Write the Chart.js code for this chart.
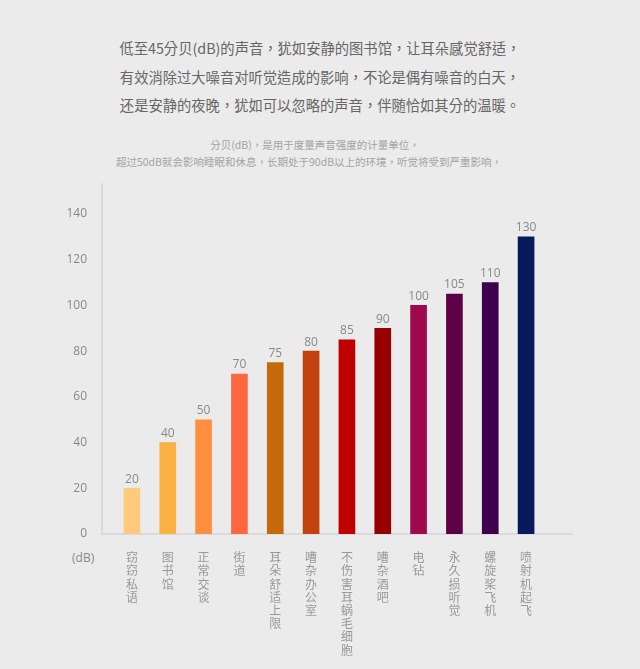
<!DOCTYPE html>
<html lang="zh-CN">
<head>
<meta charset="utf-8">
<script src="https://cdn.jsdelivr.net/npm/chart.js@4/dist/chart.umd.min.js"></script>
<style>
  html, body { margin: 0; padding: 0; background: #ebebeb; }
  body { width: 640px; height: 669px; position: relative; overflow: hidden;
         font-family: "Open Sans", "Noto Sans CJK SC", sans-serif; }
  .intro { position: absolute; left: 0; width: 640px; text-align: center;
           font-family: "Noto Sans CJK TC", "Noto Sans CJK SC", sans-serif; }
  .intro.main { color: #666; font-size: 14.3px; }
  .intro.note { color: #a3a3a3; font-size: 10.5px; }
  .unit { position: absolute; left: 72px; top: 549px; color: #888; font-size: 12px; }
  #chart { position: absolute; left: 0; top: 0; }
</style>
</head>
<body>
<div class="intro main" lang="zh-TW" style="top:37px">低至45分贝(dB)的声音，犹如安静的图书馆，让耳朵感觉舒适，</div>
<div class="intro main" lang="zh-TW" style="top:66px">有效消除过大噪音对听觉造成的影响，不论是偶有噪音的白天，</div>
<div class="intro main" lang="zh-TW" style="top:94px">还是安静的夜晚，犹如可以忽略的声音，伴随恰如其分的温暖。</div>
<div class="intro note" lang="zh-TW" style="top:137px;left:-5px">分贝(dB)，是用于度量声音强度的计量单位，</div>
<div class="intro note" lang="zh-TW" style="top:154px;left:-11px">超过50dB就会影响睡眠和休息，长期处于90dB以上的环境，听觉将受到严重影响，</div>
<div class="unit">(dB)</div>
<canvas id="chart" width="640" height="669"></canvas>
<script>
const categories = ["窃窃私语", "图书馆", "正常交谈", "街道", "耳朵舒适上限", "嘈杂办公室",
  "不伤害耳蜗毛细胞", "嘈杂酒吧", "电钻", "永久损听觉", "螺旋桨飞机", "喷射机起飞"];
const decibels = [20, 40, 50, 70, 75, 80, 85, 90, 100, 105, 110, 130];
const barColors = ["#ffc97e", "#fbb043", "#fe8f3e", "#fe6841", "#c46a0b", "#c2410c",
  "#c00000", "#970000", "#9e0a4c", "#5e0046", "#3e004c", "#071a5c"];
const yTicks = [0, 20, 40, 60, 80, 100, 120, 140];

const axisColor = "#d6d6d6";

// value labels above the bars
const valueLabels = {
  id: "valueLabels",
  afterDatasetsDraw(chart) {
    const ctx = chart.ctx;
    const meta = chart.getDatasetMeta(0);
    ctx.save();
    ctx.font = '12px "Open Sans", sans-serif';
    ctx.fillStyle = "#888";
    ctx.textAlign = "center";
    ctx.textBaseline = "bottom";
    meta.data.forEach((bar, i) => {
      ctx.fillText(decibels[i], bar.x, bar.y - 3);
    });
    ctx.restore();
  },
};

// axis lines that reach past the category band
const axisLines = {
  id: "axisLines",
  beforeDatasetsDraw(chart) {
    const ctx = chart.ctx;
    const y0 = chart.scales.y.getPixelForValue(0);
    ctx.save();
    ctx.strokeStyle = axisColor;
    ctx.lineWidth = 1.5;
    ctx.beginPath();
    ctx.moveTo(102, 183);
    ctx.lineTo(102, y0);
    ctx.lineTo(573, y0);
    ctx.stroke();
    ctx.restore();
  },
};

new Chart(document.getElementById("chart"), {
  type: "bar",
  data: {
    labels: categories.map((c) => c.split("")),
    datasets: [
      {
        label: "分贝",
        data: decibels,
        backgroundColor: barColors,
        barThickness: 16,
      },
    ],
  },
  options: {
    responsive: false,
    animation: false,
    layout: { padding: { top: 214, right: 96, bottom: 0, left: 0 } },
    plugins: {
      legend: { display: false },
      tooltip: { enabled: false },
    },
    scales: {
      x: {
        offset: true,
        grid: { display: false, drawTicks: false },
        border: { display: false },
        afterFit(scale) {
          scale.height = 135;
        },
        ticks: {
          color: "#999",
          padding: 17,
          maxRotation: 0,
          autoSkip: false,
          font: { size: 12, family: '"Noto Sans CJK SC", sans-serif', lineHeight: 1.1 },
        },
      },
      y: {
        min: 0,
        max: 140,
        afterFit(scale) {
          scale.width = 114;
        },
        afterBuildTicks(scale) {
          scale.ticks = yTicks.map((v) => ({ value: v }));
        },
        grid: { display: false, drawTicks: false },
        border: { display: false },
        ticks: {
          color: "#888",
          padding: 27,
          font: { size: 12, family: '"Open Sans", sans-serif' },
        },
      },
    },
  },
  plugins: [axisLines, valueLabels],
});
</script>
</body>
</html>
